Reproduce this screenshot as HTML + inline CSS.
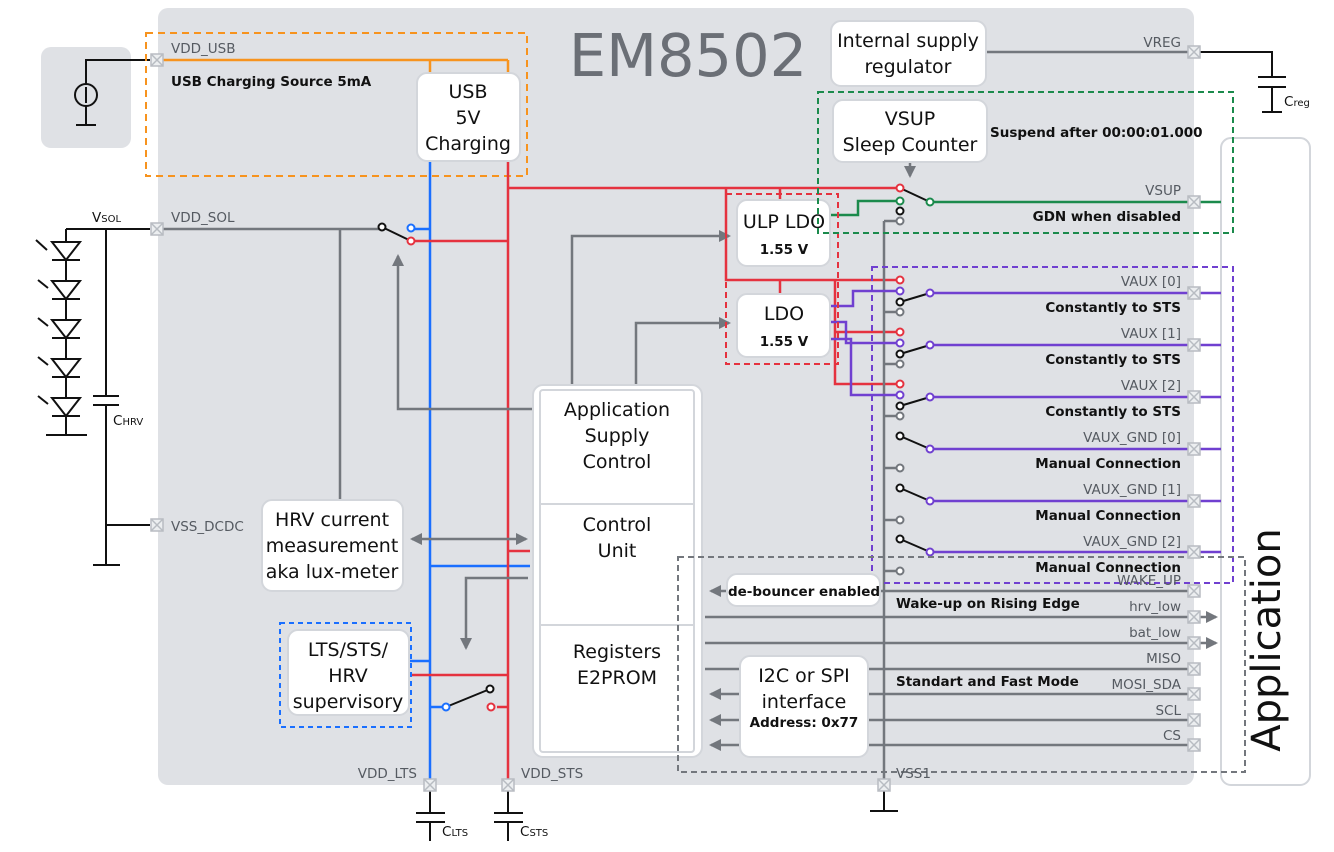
<!DOCTYPE html>
<html><head><meta charset="utf-8"><style>
html,body{margin:0;padding:0;background:#fff}
svg{display:block;font-family:"DejaVu Sans","Liberation Sans",sans-serif}
.b{fill:#fff;stroke:#d3d6db;stroke-width:2}
.t{font-size:19px;fill:#111;text-anchor:middle}
.p{font-size:13.5px;fill:#555a61;text-anchor:end}
.k{font-size:13.5px;font-weight:bold;fill:#111}
.kr{font-size:13.5px;font-weight:bold;fill:#111;text-anchor:end}
.g{stroke:#73777d;stroke-width:2.5;fill:none}
.r{stroke:#e5323f;stroke-width:2.5;fill:none}
.bl{stroke:#1a6fff;stroke-width:2.5;fill:none}
.gr{stroke:#1b8a4c;stroke-width:2.5;fill:none}
.pu{stroke:#7040d0;stroke-width:2.5;fill:none}
.o{stroke:#f7931e;stroke-width:2.5;fill:none}
.bk{stroke:#111;stroke-width:2;fill:none}
.c{fill:#fff;stroke-width:2}
</style></head><body>
<svg width="1334" height="852" viewBox="0 0 1334 852">
<defs>
<marker id="a2" markerWidth="12" markerHeight="12" refX="10" refY="6" orient="auto-start-reverse" markerUnits="userSpaceOnUse"><path d="M0,0 L12,6 L0,12z" fill="#73777d"/></marker>
<g id="pin"><rect x="-6" y="-6" width="12" height="12" fill="#eceef0" stroke="#b8bcc2" stroke-width="1.5"/><path d="M-6,-6L6,6M6,-6L-6,6" stroke="#b8bcc2" stroke-width="1.5"/></g>
</defs>
<rect x="158" y="8" width="1036" height="777" rx="10" fill="#dfe1e5"/>
<rect x="41" y="47" width="90" height="101" rx="10" fill="#dfe1e5"/>
<rect x="1221" y="138" width="89" height="647" rx="10" fill="#fff" stroke="#d3d6db" stroke-width="2"/>
<text transform="translate(1280,640) rotate(-90)" font-size="40" fill="#111" text-anchor="middle">Application</text>
<text x="688" y="76" font-size="59" fill="#6b6f76" text-anchor="middle">EM8502</text>

<path class="bk" d="M86,85 V60 H150 M86,105 V125 M76,125 H96"/>
<circle cx="86" cy="95" r="11" fill="none" stroke="#111" stroke-width="2"/>
<path d="M86,87 V103" stroke="#111" stroke-width="2"/>

<path class="o" d="M163,60 H508 M430,60 V73 M508,60 V73"/>
<rect x="146" y="33" width="381" height="143" fill="none" stroke="#f7931e" stroke-width="2" stroke-dasharray="7,5"/>

<path class="bl" d="M430,161 V779 M413,229 H430 M430,566 H530 M409,661 H430 M430,707 H446"/>
<path class="r" d="M508,161 V779 M508,188 H900 M413,241 H508 M508,551 H530 M409,675 H508 M497,707 H508"/>
<path class="r" d="M726,188 V280 H900 M780,188 V200 M780,280 V294 M835,280 V384 H900 M835,332 H900"/>

<path class="g" d="M163,229 H382 M340,229 V500"/>
<path class="g" d="M538,409 H398 V256" marker-end="url(#a2)"/>
<path class="g" d="M572,385 V236 H729" marker-end="url(#a2)"/>
<path class="g" d="M636,385 V323 H729" marker-end="url(#a2)"/>
<path class="g" d="M412,539 H526" marker-start="url(#a2)" marker-end="url(#a2)"/>
<path class="g" d="M528,578 H466 V648" marker-end="url(#a2)"/>
<path class="g" d="M910,162 V176" marker-end="url(#a2)"/>
<path class="g" d="M986,52 H1188"/>
<path class="g" d="M884,221 V779"/>
<path class="g" d="M884,221 H896 M884,312 H896 M884,364 H896 M884,416 H896 M884,468 H896 M884,520 H896 M884,571 H896"/>

<path class="gr" d="M830,215 H858 V201 H896 M934,202 H1188 M1200,202 H1221"/>
<path class="pu" d="M830,306 H853 V291 H896 M830,322 H846 V343 H896 M830,339 H851 V395 H896"/>
<path class="pu" d="M934,293 H1188 M934,345 H1188 M934,397 H1188 M934,449 H1188 M934,501 H1188 M934,552 H1188"/>
<path class="pu" d="M1200,293 H1221 M1200,345 H1221 M1200,397 H1221 M1200,449 H1221 M1200,501 H1221 M1200,552 H1221"/>

<path class="bk" d="M382,227 L411,241 M900,188 L930,202 M900,302 L930,293 M900,354 L930,345 M900,406 L930,397 M900,436 L930,449 M900,488 L930,501 M900,539 L930,552 M490,689 L446,707"/>
<g class="c">
<circle cx="382" cy="227" r="3.5" stroke="#111"/>
<circle cx="411" cy="228" r="3.5" stroke="#1a6fff"/>
<circle cx="411" cy="241" r="3.5" stroke="#e5323f"/>
<circle cx="900" cy="188" r="3.5" stroke="#e5323f"/>
<circle cx="900" cy="201" r="3.5" stroke="#1b8a4c"/>
<circle cx="930" cy="202" r="3.5" stroke="#1b8a4c"/>
<circle cx="900" cy="211" r="3.5" stroke="#111"/>
<circle cx="900" cy="221" r="3.5" stroke="#73777d"/>
<circle cx="900" cy="280" r="3.5" stroke="#e5323f"/><circle cx="900" cy="291" r="3.5" stroke="#7040d0"/><circle cx="900" cy="302" r="3.5" stroke="#111"/><circle cx="900" cy="312" r="3.5" stroke="#73777d"/><circle cx="930" cy="293" r="3.5" stroke="#7040d0"/>
<circle cx="900" cy="332" r="3.5" stroke="#e5323f"/><circle cx="900" cy="343" r="3.5" stroke="#7040d0"/><circle cx="900" cy="354" r="3.5" stroke="#111"/><circle cx="900" cy="364" r="3.5" stroke="#73777d"/><circle cx="930" cy="345" r="3.5" stroke="#7040d0"/>
<circle cx="900" cy="384" r="3.5" stroke="#e5323f"/><circle cx="900" cy="395" r="3.5" stroke="#7040d0"/><circle cx="900" cy="406" r="3.5" stroke="#111"/><circle cx="900" cy="416" r="3.5" stroke="#73777d"/><circle cx="930" cy="397" r="3.5" stroke="#7040d0"/>
<circle cx="900" cy="436" r="3.5" stroke="#111"/><circle cx="930" cy="449" r="3.5" stroke="#7040d0"/><circle cx="900" cy="468" r="3.5" stroke="#73777d"/>
<circle cx="900" cy="488" r="3.5" stroke="#111"/><circle cx="930" cy="501" r="3.5" stroke="#7040d0"/><circle cx="900" cy="520" r="3.5" stroke="#73777d"/>
<circle cx="900" cy="539" r="3.5" stroke="#111"/><circle cx="930" cy="552" r="3.5" stroke="#7040d0"/><circle cx="900" cy="571" r="3.5" stroke="#73777d"/>
<circle cx="490" cy="689" r="3.5" stroke="#111"/><circle cx="446" cy="707" r="3.5" stroke="#1a6fff"/><circle cx="491" cy="707" r="3.5" stroke="#e5323f"/>
</g>

<path class="g" d="M727,591 H711" marker-end="url(#a2)"/>
<path class="g" d="M880,591 H1188"/>
<path class="g" d="M705,617 H1216" marker-end="url(#a2)"/>
<path class="g" d="M705,643 H1216" marker-end="url(#a2)"/>
<path class="g" d="M705,669 H740 M868,669 H1188 M868,694 H1188 M868,720 H1188 M868,745 H1188"/>
<path class="g" d="M740,694 H711" marker-end="url(#a2)"/>
<path class="g" d="M740,720 H711" marker-end="url(#a2)"/>
<path class="g" d="M740,745 H711" marker-end="url(#a2)"/>

<path class="bk" stroke-width="3" d="M1200,52 H1272 V76 M1258,77 H1286 M1258,87 H1286 M1272,88 V112 M1262,112 H1282"/>

<path class="bk" stroke-width="2.5" d="M66,229 H150 M66,229 V435 M46,435 H87 M106,229 V395 M93,396 H119 M93,405 H119 M106,405 V565 M93,565 H120 M106,525 H150"/>
<g fill="#fff" stroke="#111" stroke-width="2">
<path d="M52,242 H80 L66,260z"/><path d="M52,281 H80 L66,299z"/><path d="M52,320 H80 L66,338z"/><path d="M52,359 H80 L66,377z"/><path d="M52,398 H80 L66,416z"/>
</g>
<path stroke="#111" stroke-width="2" d="M52,260H80M52,299H80M52,338H80M52,377H80M52,416H80 M36,240 L47,250 M38,280 L48,288 M38,318 L48,326 M38,357 L48,365 M38,396 L48,404"/>
<text x="92" y="222" font-size="13.5" fill="#111">V<tspan font-size="10">SOL</tspan></text>
<text x="113" y="425" font-size="13.5" fill="#111">C<tspan font-size="10">HRV</tspan></text>

<path class="bk" stroke-width="3" d="M430,791 V812 M416,813 H445 M416,822 H445 M430,822 V841 M508,791 V812 M494,813 H523 M494,822 H523 M508,822 V841 M884,791 V811 M870,811 H898"/>
<text x="442" y="836" font-size="13.5" fill="#111">C<tspan font-size="10">LTS</tspan></text>
<text x="520" y="836" font-size="13.5" fill="#111">C<tspan font-size="10">STS</tspan></text>
<text x="1284" y="106" font-size="13.5" fill="#111">C<tspan font-size="10">reg</tspan></text>

<rect class="b" x="417" y="73" width="103" height="88" rx="10"/>
<text class="t" x="468" y="98">USB</text><text class="t" x="468" y="124">5V</text><text class="t" x="468" y="150">Charging</text>
<rect class="b" x="831" y="21" width="155" height="65" rx="10"/>
<text class="t" x="908" y="47">Internal supply</text><text class="t" x="908" y="73">regulator</text>
<rect class="b" x="833" y="100" width="154" height="62" rx="10"/>
<text class="t" x="910" y="125">VSUP</text><text class="t" x="910" y="151">Sleep Counter</text>
<rect class="b" x="737" y="200" width="93" height="66" rx="10"/>
<text class="t" x="784" y="228">ULP LDO</text><text x="784" y="254" class="k" text-anchor="middle">1.55 V</text>
<rect class="b" x="737" y="294" width="93" height="63" rx="10"/>
<text class="t" x="784" y="320">LDO</text><text x="784" y="346" class="k" text-anchor="middle">1.55 V</text>
<rect x="726" y="194" width="112" height="170" fill="none" stroke="#e5323f" stroke-width="2" stroke-dasharray="6,4"/>
<rect x="818" y="92" width="415" height="141" fill="none" stroke="#1b8a4c" stroke-width="2" stroke-dasharray="6,4"/>
<rect x="872" y="267" width="361" height="316" fill="none" stroke="#7040d0" stroke-width="2" stroke-dasharray="6,4"/>

<rect class="b" x="533" y="385" width="169" height="372" rx="10"/>
<rect x="540" y="390" width="154" height="362" fill="#fff" stroke="#d3d6db" stroke-width="2" rx="3"/>
<path d="M540,504H694M540,625H694" stroke="#d3d6db" stroke-width="2"/>
<text class="t" x="617" y="416">Application</text><text class="t" x="617" y="442">Supply</text><text class="t" x="617" y="468">Control</text>
<text class="t" x="617" y="531">Control</text><text class="t" x="617" y="557">Unit</text>
<text class="t" x="617" y="658">Registers</text><text class="t" x="617" y="684">E2PROM</text>

<rect class="b" x="262" y="500" width="141" height="91" rx="10"/>
<text class="t" x="332" y="526">HRV current</text><text class="t" x="332" y="552">measurement</text><text class="t" x="332" y="578">aka lux-meter</text>
<rect class="b" x="288" y="630" width="121" height="85" rx="10"/>
<text class="t" x="348" y="656">LTS/STS/</text><text class="t" x="348" y="682">HRV</text><text class="t" x="348" y="708">supervisory</text>
<rect x="280" y="623" width="131" height="104" fill="none" stroke="#1a6fff" stroke-width="2" stroke-dasharray="5,4"/>

<rect class="b" x="727" y="574" width="153" height="32" rx="10"/>
<text x="804" y="596" class="k" text-anchor="middle">de-bouncer enabled</text>
<rect class="b" x="740" y="656" width="128" height="101" rx="10"/>
<text class="t" x="804" y="682">I2C or SPI</text><text class="t" x="804" y="708">interface</text><text x="804" y="727" class="k" text-anchor="middle">Address: 0x77</text>
<rect x="678" y="557" width="567" height="215" fill="none" stroke="#73777d" stroke-width="2" stroke-dasharray="6,4"/>

<use href="#pin" x="157" y="60"/><use href="#pin" x="157" y="229"/><use href="#pin" x="157" y="525"/>
<use href="#pin" x="430" y="785"/><use href="#pin" x="508" y="785"/><use href="#pin" x="884" y="785"/>
<use href="#pin" x="1194" y="52"/><use href="#pin" x="1194" y="202"/>
<use href="#pin" x="1194" y="293"/><use href="#pin" x="1194" y="345"/><use href="#pin" x="1194" y="397"/>
<use href="#pin" x="1194" y="449"/><use href="#pin" x="1194" y="501"/><use href="#pin" x="1194" y="552"/>
<use href="#pin" x="1194" y="591"/><use href="#pin" x="1194" y="617"/><use href="#pin" x="1194" y="643"/>
<use href="#pin" x="1194" y="669"/><use href="#pin" x="1194" y="694"/><use href="#pin" x="1194" y="720"/><use href="#pin" x="1194" y="745"/>

<text x="171" y="53" font-size="13.5" fill="#555a61">VDD_USB</text>
<text x="171" y="86" class="k">USB Charging Source 5mA</text>
<text x="171" y="222" font-size="13.5" fill="#555a61">VDD_SOL</text>
<text x="171" y="531" font-size="13.5" fill="#555a61">VSS_DCDC</text>
<text x="417" y="778" class="p">VDD_LTS</text>
<text x="521" y="778" font-size="13.5" fill="#555a61">VDD_STS</text>
<text x="896" y="778" font-size="13.5" fill="#555a61">VSS1</text>
<text x="1181" y="47" class="p">VREG</text>
<text x="990" y="137" class="k">Suspend after 00:00:01.000</text>
<text x="1181" y="195" class="p">VSUP</text><text x="1181" y="221" class="kr">GDN when disabled</text>
<text x="1181" y="286" class="p">VAUX [0]</text><text x="1181" y="312" class="kr">Constantly to STS</text>
<text x="1181" y="338" class="p">VAUX [1]</text><text x="1181" y="364" class="kr">Constantly to STS</text>
<text x="1181" y="390" class="p">VAUX [2]</text><text x="1181" y="416" class="kr">Constantly to STS</text>
<text x="1181" y="442" class="p">VAUX_GND [0]</text><text x="1181" y="468" class="kr">Manual Connection</text>
<text x="1181" y="494" class="p">VAUX_GND [1]</text><text x="1181" y="520" class="kr">Manual Connection</text>
<text x="1181" y="546" class="p">VAUX_GND [2]</text><text x="1181" y="572" class="kr">Manual Connection</text>
<text x="1181" y="585" class="p">WAKE_UP</text>
<text x="896" y="608" class="k">Wake-up on Rising Edge</text>
<text x="1181" y="611" class="p">hrv_low</text>
<text x="1181" y="637" class="p">bat_low</text>
<text x="1181" y="663" class="p">MISO</text>
<text x="896" y="686" class="k">Standart and Fast Mode</text>
<text x="1181" y="689" class="p">MOSI_SDA</text>
<text x="1181" y="715" class="p">SCL</text>
<text x="1181" y="740" class="p">CS</text>
</svg>
</body></html>
